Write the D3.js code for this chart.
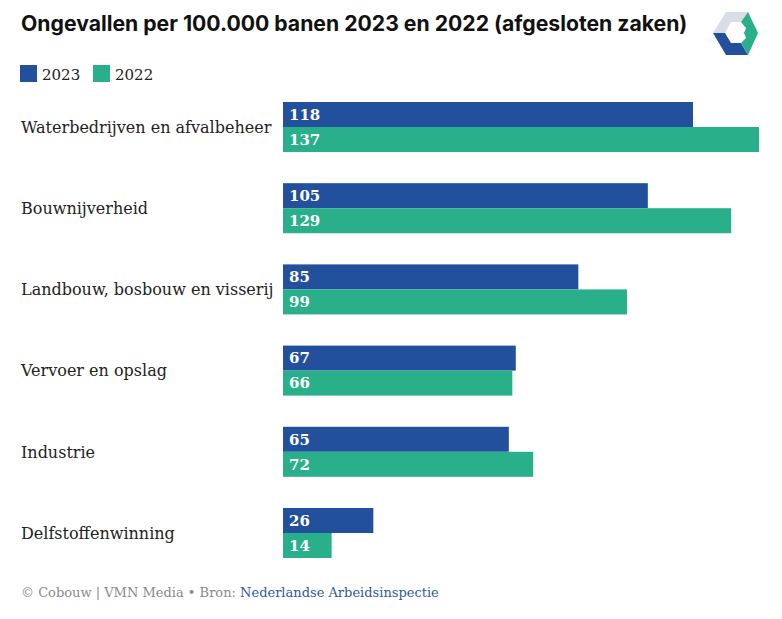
<!DOCTYPE html>
<html><head><meta charset="utf-8">
<script src="https://cdn.jsdelivr.net/npm/d3@7/dist/d3.min.js"></script>
<style>body{margin:0;background:#fff;}</style>
</head><body>
<svg id="chart" width="782" height="619"></svg>
<script>
const categories = ["Waterbedrijven en afvalbeheer","Bouwnijverheid","Landbouw, bosbouw en visserij","Vervoer en opslag","Industrie","Delfstoffenwinning"];
const values2023 = [118,105,85,67,65,26];
const values2022 = [137,129,99,66,72,14];
const seriesNames = ["2023","2022"];
const colors = ["#22509d","#29b08b"];

const svg = d3.select("#chart");
const serif = "'DejaVu Serif', serif";

svg.append("text").attr("x",21).attr("y",31)
  .attr("font-family","Inter, 'Noto Sans', sans-serif").attr("font-weight",700)
  .attr("font-size",21.2).attr("fill","#111")
  .text("Ongevallen per 100.000 banen 2023 en 2022 (afgesloten zaken)");

// logo
const logo = svg.append("g");
logo.append("path").attr("d","M713,33 L726,12 L748,12 L741,22 L731,22 L725,33 Z").attr("fill","#d9dee6");
logo.append("path").attr("d","M713,33 L725,33 L731,43 L741,43 L748,55 L726,55 Z").attr("fill","#22509d");
logo.append("path").attr("d","M741,22 L748,12 L758,33 L748,55 L741,43 L746,38 L744,33 L746,28 Z").attr("fill","#29b08b");

// legend
const leg = svg.append("g");
[[20,42],[93,115]].forEach((p,i)=>{
  leg.append("rect").attr("x",p[0]).attr("y",65).attr("width",17).attr("height",17).attr("fill",colors[i]);
  leg.append("text").attr("x",p[1]).attr("y",80).attr("font-family",serif).attr("font-size",15).attr("fill","#222").text(seriesNames[i]);
});

const x = d3.scaleLinear().domain([0,137]).range([283,759]);
const y = d3.scaleBand().domain(categories).range([102,558]).paddingInner(0.384).paddingOuter(0);
const ySub = d3.scaleBand().domain(seriesNames).range([0,y.bandwidth()]);

const data = categories.map((c,i)=>({cat:c, vals:[values2023[i],values2022[i]]}));

const g = svg.append("g");
const groups = g.selectAll("g.grp").data(data).join("g").attr("class","grp")
  .attr("transform",d=>`translate(0,${y(d.cat)})`);

groups.selectAll("rect").data(d=>d.vals.map((v,i)=>({v,s:seriesNames[i],i})))
  .join("rect").attr("x",x(0)).attr("y",d=>ySub(d.s)).attr("width",d=>x(d.v)-x(0))
  .attr("height",ySub.bandwidth()).attr("fill",d=>colors[d.i]);

groups.selectAll("text.val").data(d=>d.vals.map((v,i)=>({v,s:seriesNames[i],i})))
  .join("text").attr("class","val").attr("x",x(0)+6).attr("y",d=>ySub(d.s)+ySub.bandwidth()/2)
  .attr("dy","0.36em").attr("font-family",serif).attr("font-weight",700).attr("font-size",15)
  .attr("fill","#fff").text(d=>d.v);

groups.append("text").attr("x",21).attr("y",y.bandwidth()/2).attr("dy","0.36em")
  .attr("font-family",serif).attr("font-size",16).attr("fill","#222").text(d=>d.cat);

const foot = svg.append("text").attr("x",21).attr("y",597).attr("font-family",serif).attr("font-size",13);
foot.append("tspan").attr("fill","#8a8a8a").text("© Cobouw | VMN Media • Bron: ");
foot.append("tspan").attr("fill","#2f5a9e").text("Nederlandse Arbeidsinspectie");
</script>
</body></html>
